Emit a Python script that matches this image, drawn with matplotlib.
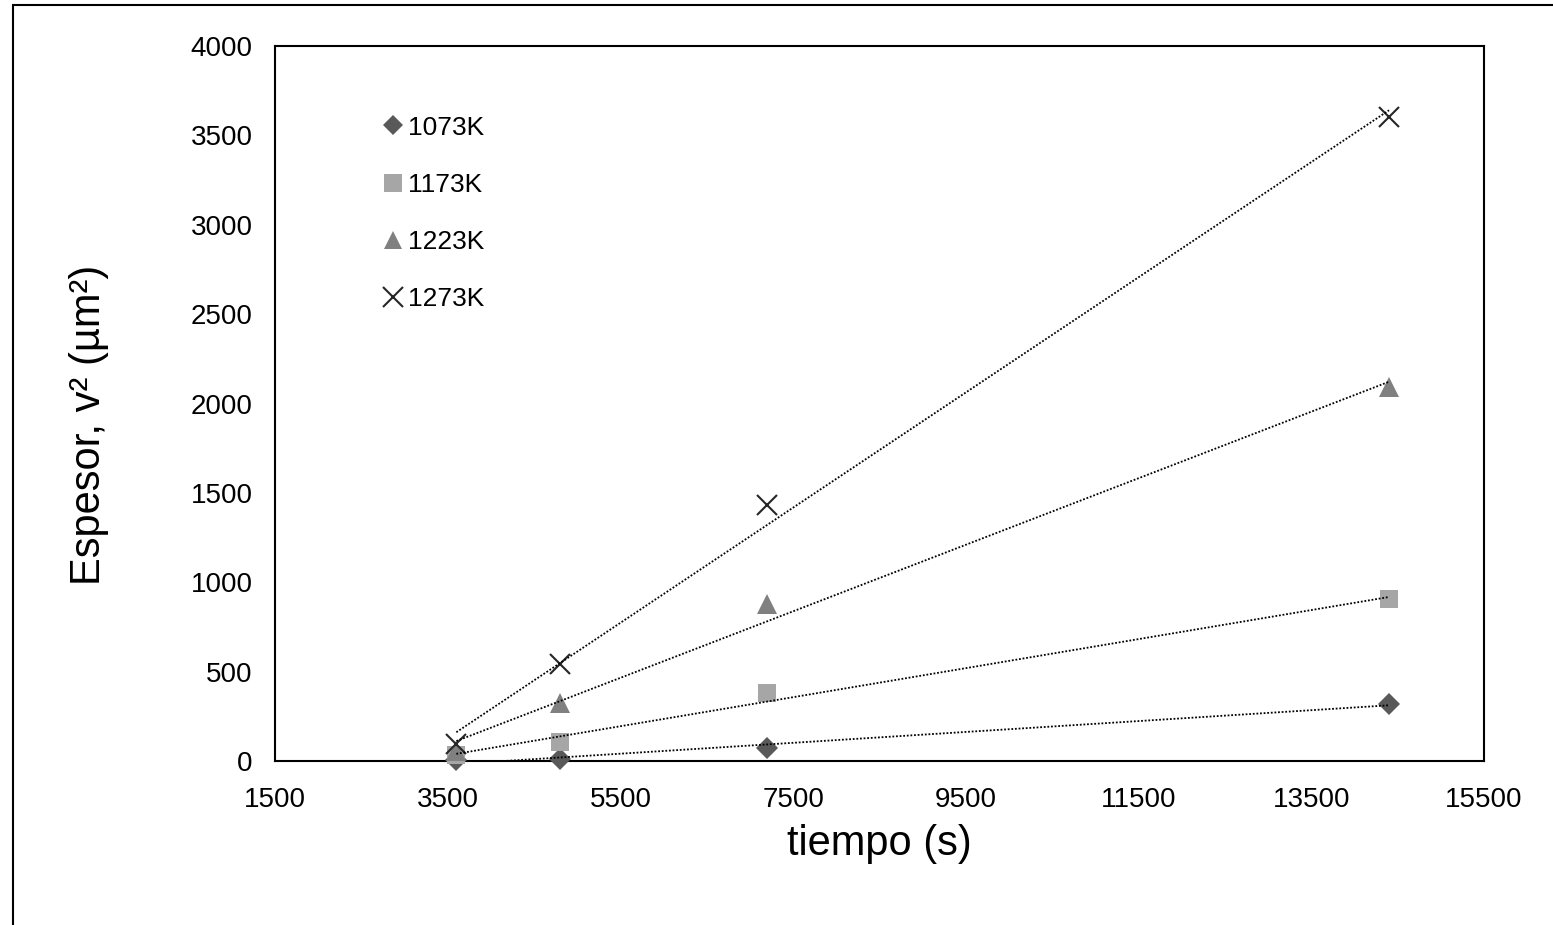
import matplotlib.pyplot as plt
import matplotlib.patches as mpatches
import numpy as np

plt.rcParams['font.family'] = ['Liberation Sans', 'DejaVu Sans']

tiempo = np.array([3600, 4800, 7200, 14400])
labels = ['1073K', '1173K', '1223K', '1273K']
esp_1073 = [5, 12, 70, 320]
esp_1173 = [35, 108, 380, 905]
esp_1223 = [55, 325, 880, 2090]
esp_1273 = [95, 540, 1430, 3605]

series = [esp_1073, esp_1173, esp_1223, esp_1273]
markers = ['D', 's', '^', 'x']
colors = ['#595959', '#a6a6a6', '#808080', '#262626']
sizes = [11, 13, 14, 15]

fig = plt.figure(figsize=(15.53, 9.25), dpi=100)
ax = fig.add_axes([275 / 1553, 1 - 761 / 925, (1484 - 275) / 1553, (761 - 46) / 925])

# outer frame (right and bottom fall outside the image)
fig.patches.append(mpatches.Rectangle((13 / 1553, -0.1), 1.2, 1 - 5 / 925 + 0.1,
                                      transform=fig.transFigure, fill=False,
                                      edgecolor='black', linewidth=1.5))

xx = np.linspace(tiempo[0], tiempo[-1], 100)
for vals, lab, m, c, s in zip(series, labels, markers, colors, sizes):
    if m == 'x':
        ax.plot(tiempo, vals, linestyle='None', marker=m, markersize=s, color=c,
                markeredgewidth=1.5, label=lab, clip_on=False, zorder=3)
    else:
        ax.plot(tiempo, vals, linestyle='None', marker=m, markersize=s, color=c,
                markeredgewidth=0, label=lab, clip_on=False, zorder=3)
    # linear trendline
    p = np.polyfit(tiempo, vals, 1)
    ax.plot(xx, np.polyval(p, xx), linestyle=(0, (1, 1)), color='black', linewidth=1.3, zorder=4)

ax.set_xlim(1500, 15500)
ax.set_ylim(0, 4000)
ax.set_xticks(np.arange(1500, 15501, 2000))
ax.set_yticks(np.arange(0, 4001, 500))
ax.tick_params(length=0, labelsize=20, pad=16)
ax.tick_params(axis='x', pad=19)
for sp in ax.spines.values():
    sp.set_linewidth(1.5)

ax.set_xlabel('tiempo (s)', fontsize=30, labelpad=8)
ax.set_ylabel('Espesor, v² (µm²)', fontsize=30)
ax.yaxis.set_label_coords(-0.137, 0.47)

ax.legend(loc='upper left', bbox_to_anchor=(0.062, 0.936), frameon=False, fontsize=19,
          handletextpad=-0.2, labelspacing=1.26, handlelength=1.5, markerscale=0.95)

plt.savefig('out.png')
